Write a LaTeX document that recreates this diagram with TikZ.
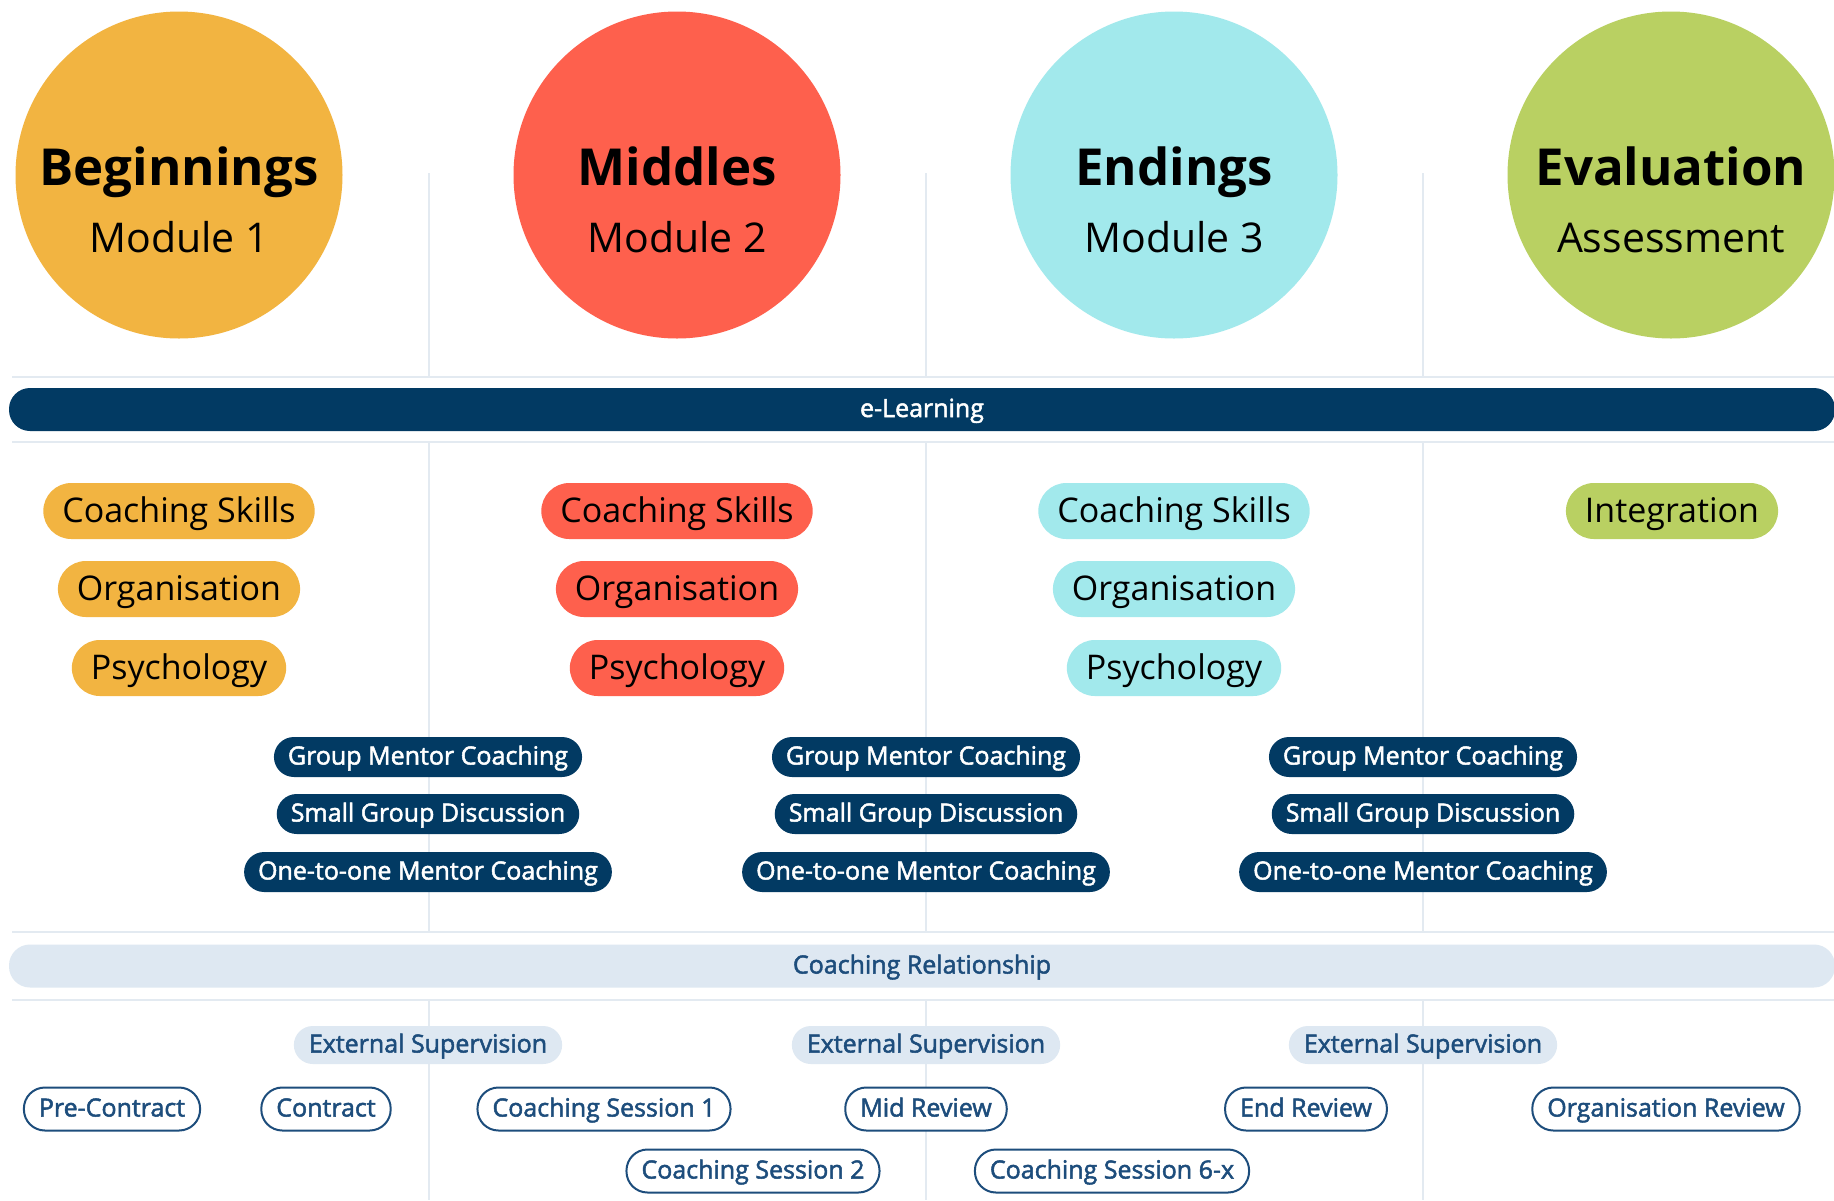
\documentclass[tikz,border=0pt]{standalone}
\usepackage{fontspec}
\setmainfont{Open Sans}
\newfontfamily\semib{Open Sans}[UprightFeatures={FakeBold=2}]
\usetikzlibrary{positioning}
\definecolor{begcol}{HTML}{F2B441}
\definecolor{midcol}{HTML}{FE604D}
\definecolor{endcol}{HTML}{A2E9EC}
\definecolor{evalcol}{HTML}{B9D062}
\definecolor{navy}{HTML}{023A63}
\definecolor{pale}{HTML}{DEE8F2}
\definecolor{rulecol}{HTML}{E3EAF1}
\definecolor{ink}{HTML}{1D4D7C}

\begin{document}
\begin{tikzpicture}[x=1pt,y=-1pt,
  phase/.style={circle,minimum size=327pt,inner sep=0pt},
  phasetitle/.style={anchor=base,font=\fontsize{51}{61}\selectfont\bfseries},
  phasesub/.style={anchor=base,font=\fontsize{41}{50}\selectfont},
  topic/.style={rectangle,rounded corners=28pt,minimum height=56pt,inner xsep=19pt,
    text height=27pt,text depth=5pt,font=\fontsize{34}{41}\selectfont},
  band/.style={rectangle,rounded corners=21pt,minimum height=43pt,minimum width=1826pt,
    text height=19pt,text depth=4pt,font=\fontsize{25}{30}\selectfont\semib},
  mentor/.style={rectangle,rounded corners=20pt,fill=navy,text=white,minimum height=40pt,
    inner xsep=14pt,text height=19pt,text depth=4pt,font=\fontsize{25}{30}\selectfont\semib},
  superv/.style={rectangle,rounded corners=19pt,fill=pale,text=ink,minimum height=38pt,
    inner xsep=15pt,text height=19pt,text depth=4pt,font=\fontsize{25}{30}\selectfont\semib},
  session/.style={rectangle,rounded corners=21pt,draw=ink,line width=2pt,fill=white,text=ink,
    minimum height=43pt,inner xsep=15pt,text height=19pt,text depth=4pt,
    font=\fontsize{25}{30}\selectfont\semib},
  divider/.style={rulecol,line width=2pt}]
\useasboundingbox[fill=white] (0,0) rectangle (1834,1200);

\draw[divider] (12,377) -- (1834,377);
\draw[divider] (12,442) -- (1834,442);
\draw[divider] (12,932) -- (1834,932);
\draw[divider] (12,1000) -- (1834,1000);
\foreach \dx in {429,926,1423}{
  \draw[divider] (\dx,173) -- (\dx,377);
  \draw[divider] (\dx,442) -- (\dx,932);
  \draw[divider] (\dx,1000) -- (\dx,1200);
}

\node[phase,fill=begcol] (beg) at (179,175) {};
\node[phase,fill=midcol] (mid) at (677,175) {};
\node[phase,fill=endcol] (end) at (1174,175) {};
\node[phase,fill=evalcol] (eval) at (1671,175) {};
\node[phasetitle] (begtitle) at (179,185) {Beginnings};
\node[phasesub] (begsub) at (179,252) {Module 1};
\node[phasetitle] (midtitle) at (677,185) {Middles};
\node[phasesub] (midsub) at (677,252) {Module 2};
\node[phasetitle] (endtitle) at (1174,185) {Endings};
\node[phasesub] (endsub) at (1174,252) {Module 3};
\node[phasetitle] (evaltitle) at (1671,185) {Evaluation};
\node[phasesub] (evalsub) at (1671,252) {Assessment};

\node[band,fill=navy,text=white] (elearn) at (922,409.5) {e-Learning};

\node[topic,fill=begcol] (begskills) at (179,511) {Coaching Skills};
\node[topic,fill=begcol] (begorg) at (179,589) {Organisation};
\node[topic,fill=begcol] (begpsy) at (179,668) {Psychology};
\node[topic,fill=midcol] (midskills) at (677,511) {Coaching Skills};
\node[topic,fill=midcol] (midorg) at (677,589) {Organisation};
\node[topic,fill=midcol] (midpsy) at (677,668) {Psychology};
\node[topic,fill=endcol] (endskills) at (1174,511) {Coaching Skills};
\node[topic,fill=endcol] (endorg) at (1174,589) {Organisation};
\node[topic,fill=endcol] (endpsy) at (1174,668) {Psychology};
\node[topic,fill=evalcol] (evalint) at (1672,511) {Integration};

\node[mentor] (groupa) at (428,757) {Group Mentor Coaching};
\node[mentor] (smalla) at (428,814) {Small Group Discussion};
\node[mentor] (onea) at (428,872) {One-to-one Mentor Coaching};
\node[mentor] (groupb) at (926,757) {Group Mentor Coaching};
\node[mentor] (smallb) at (926,814) {Small Group Discussion};
\node[mentor] (oneb) at (926,872) {One-to-one Mentor Coaching};
\node[mentor] (groupc) at (1423,757) {Group Mentor Coaching};
\node[mentor] (smallc) at (1423,814) {Small Group Discussion};
\node[mentor] (onec) at (1423,872) {One-to-one Mentor Coaching};

\node[band,fill=pale,text=ink] (relation) at (922,966) {Coaching Relationship};

\node[superv] (supa) at (428,1045) {External Supervision};
\node[superv] (supb) at (926,1045) {External Supervision};
\node[superv] (supc) at (1423,1045) {External Supervision};

\node[session] (precontract) at (112,1109) {Pre-Contract};
\node[session] (contract) at (326,1109) {Contract};
\node[session] (sessiona) at (604,1109) {Coaching Session 1};
\node[session] (midreview) at (926,1109) {Mid Review};
\node[session] (endreview) at (1306,1109) {End Review};
\node[session] (orgreview) at (1666,1109) {Organisation Review};
\node[session] (sessionb) at (753,1171) {Coaching Session 2};
\node[session] (sessionx) at (1112,1171) {Coaching Session 6-x};
\end{tikzpicture}
\end{document}
